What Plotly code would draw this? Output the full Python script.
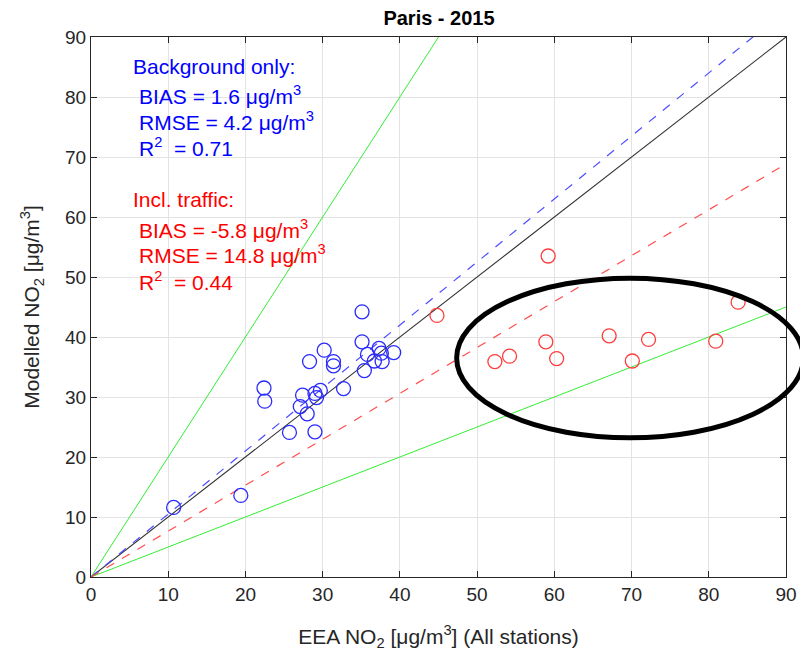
import plotly.graph_objects as go

# ---- data ----
bg_obs = [35.1, 35.1, 30.2, 28.3, 31.4, 31.4, 35.8, 37.3, 37.6, 39.2, 36.7, 37.7, 35.4,
          32.7, 22.4, 22.5, 27.4, 29.0, 29.7, 29.2, 27.1, 28.0, 25.7, 29.0, 10.7, 19.4]
bg_mod = [44.2, 39.2, 37.8, 35.9, 35.9, 35.2, 37.1, 38.1, 37.3, 37.4, 36.0, 35.9, 34.4,
          31.4, 31.5, 29.3, 30.3, 30.6, 31.1, 29.9, 28.4, 27.2, 24.1, 24.2, 11.6, 13.6]
tr_obs = [59.2, 44.8, 83.8, 52.3, 54.2, 58.9, 60.3, 67.1, 70.1, 72.2, 80.9]
tr_mod = [53.5, 43.6, 45.8, 35.9, 36.8, 39.2, 36.4, 40.2, 36.0, 39.6, 39.3]

line_x = [0, 90]
slope_one = 1.0
slope_factor2_hi = 2.0
slope_factor2_lo = 0.5
slope_bg_fit = 1.05
slope_tr_fit = 0.765

ticks = [0, 10, 20, 30, 40, 50, 60, 70, 80, 90]

# highlighted region (data units): centre and semi-axes
ell_cx, ell_cy, ell_rx, ell_ry = 69.8, 36.5, 22.45, 13.3

FONT = "Liberation Sans, Arial, Helvetica, sans-serif"
GRAY = "#262626"

fig = go.Figure()

def add_line(slope, color, dash="solid", width=1):
    fig.add_trace(go.Scatter(x=line_x, y=[slope * v for v in line_x], mode="lines",
                             line=dict(color=color, width=width, dash=dash),
                             showlegend=False, hoverinfo="skip"))

add_line(slope_one, "#333333", width=1.1)
add_line(slope_factor2_hi, "#33ee33")
add_line(slope_factor2_lo, "#33ee33")
add_line(slope_bg_fit, "#4d4dff", dash="dash", width=1.2)
add_line(slope_tr_fit, "#ff4d4d", dash="dash", width=1.2)

fig.add_trace(go.Scatter(x=bg_obs, y=bg_mod, mode="markers",
                         marker=dict(symbol="circle-open", size=14, color="#2a2aff",
                                     line=dict(width=1.3)),
                         showlegend=False))
fig.add_trace(go.Scatter(x=tr_obs, y=tr_mod, mode="markers",
                         marker=dict(symbol="circle-open", size=14, color="#ff3c3c",
                                     line=dict(width=1.3)),
                         showlegend=False))

xr = [0, 90]
yr = [0, 90]
fig.add_shape(type="circle", xref="paper", yref="paper",
              x0=(ell_cx - ell_rx - xr[0]) / (xr[1] - xr[0]),
              x1=(ell_cx + ell_rx - xr[0]) / (xr[1] - xr[0]),
              y0=(ell_cy - ell_ry - yr[0]) / (yr[1] - yr[0]),
              y1=(ell_cy + ell_ry - yr[0]) / (yr[1] - yr[0]),
              line=dict(color="black", width=5), layer="above")

# text annotations (pixel-based positions in paper space)
W, H = 800, 655
ml, mr, mt, mb = 91, 14, 37, 78
pw, ph = W - ml - mr, H - mt - mb

def px(xp):
    return (xp - ml) / pw

def py(yp):
    return 1 - (yp - mt) / ph

texts = [
    ("Background only:", 131, 66, "#0000ff"),
    ("BIAS = 1.6 μg/m<sup>3</sup>", 137, 95, "#0000ff"),
    ("RMSE = 4.2 μg/m<sup>3</sup>", 137, 121, "#0000ff"),
    ("R<sup>2</sup> &nbsp;= 0.71", 137, 147, "#0000ff"),
    ("Incl. traffic:", 131, 200, "#ff0000"),
    ("BIAS = -5.8 μg/m<sup>3</sup>", 137, 229, "#ff0000"),
    ("RMSE = 14.8 μg/m<sup>3</sup>", 137, 254, "#ff0000"),
    ("R<sup>2</sup> &nbsp;= 0.44", 137, 281, "#ff0000"),
]
for t, x, y, c in texts:
    fig.add_annotation(text=t, xref="paper", yref="paper", x=px(x), y=py(y),
                       xanchor="left", yanchor="middle", showarrow=False,
                       font=dict(family=FONT, size=21, color=c))

axis_common = dict(range=[0, 90], tickvals=ticks, ticks="inside", ticklen=6,
                   tickcolor=GRAY, showline=True, linecolor=GRAY, linewidth=1,
                   mirror="ticks", showgrid=True, gridcolor="#e3e3e3", gridwidth=1,
                   zeroline=False, automargin=False,
                   tickfont=dict(family=FONT, size=19, color=GRAY))

fig.update_layout(
    width=W, height=H,
    margin=dict(l=ml, r=mr, t=mt, b=mb),
    plot_bgcolor="white", paper_bgcolor="white",
    title=dict(text="<b>Paris - 2015</b>", xref="container", x=439 / W, xanchor="center",
               yref="container", y=1 - 18 / H, yanchor="middle",
               font=dict(family=FONT, size=20, color="black")),
    xaxis=dict(**axis_common,
               title=dict(text="EEA NO<sub>2</sub> [μg/m<sup>3</sup>] (All stations)",
                          font=dict(family=FONT, size=21, color=GRAY), standoff=25)),
    yaxis=dict(**axis_common,
               title=dict(text="Modelled NO<sub>2</sub> [μg/m<sup>3</sup>]",
                          font=dict(family=FONT, size=21, color=GRAY), standoff=19)),
)

fig.write_html("out.html")
